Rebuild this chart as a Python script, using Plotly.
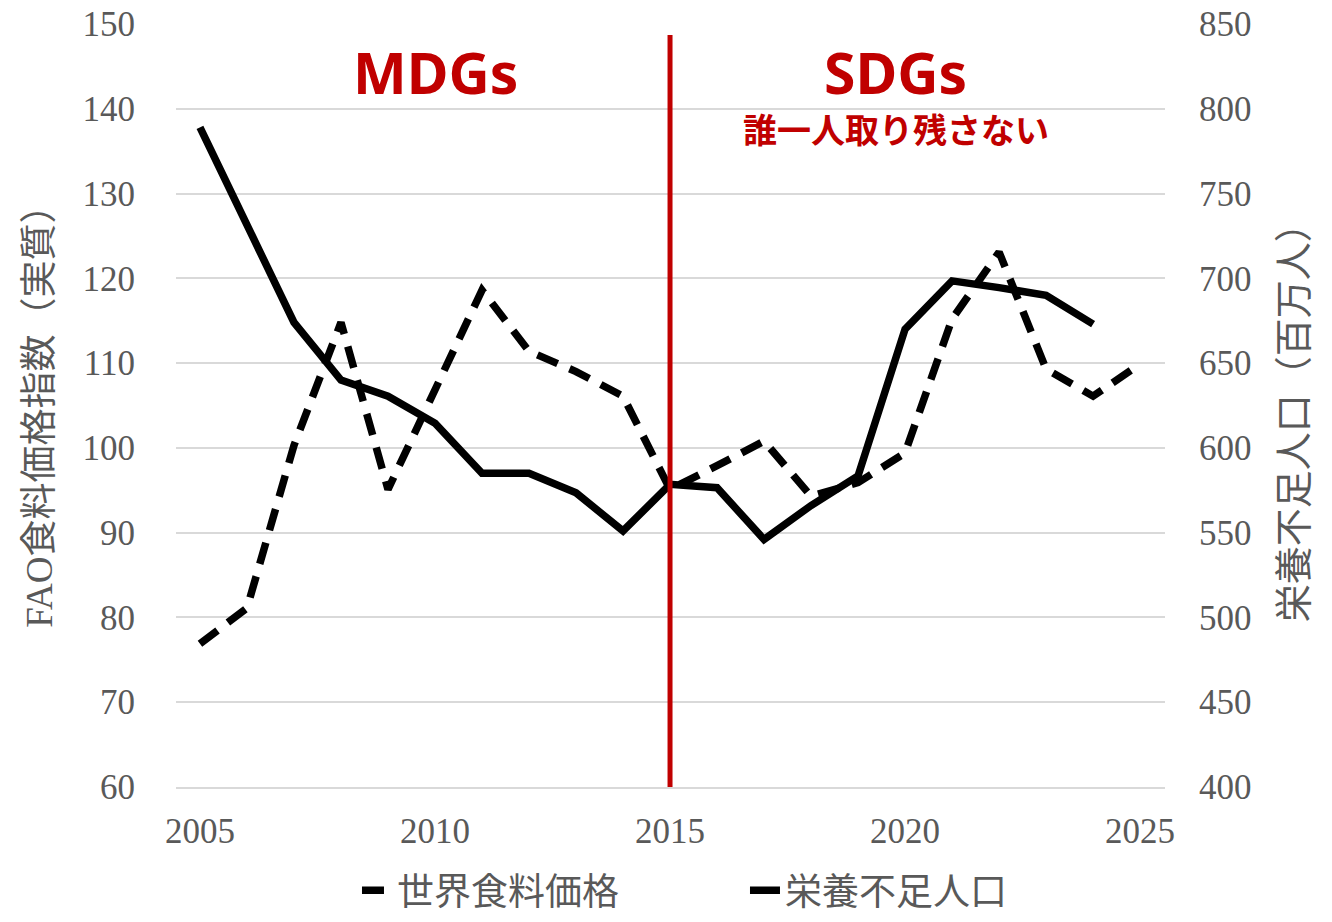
import plotly.graph_objects as go

# ---- data ----
years_price = list(range(2005, 2026))
food_price = [76.9, 81.1, 100.3, 114.8, 95.1, 106.9, 118.6, 111.4, 109.0, 106.1,
              95.1, 97.9, 100.8, 94.3, 95.9, 99.4, 115.2, 123.1, 109.3, 106.1, 109.9]
years_under = list(range(2005, 2025))
undernourished = [789, 731, 674, 640, 630.5, 614.5, 585, 585, 573.5, 551,
                  578.5, 576.5, 546, 566, 583.5, 670, 698.5, 694.5, 690, 673]

x_ticks = [2005, 2010, 2015, 2020, 2025]
divide_year = 2015
name_price = "世界食料価格"
name_under = "栄養不足人口"
title_left = "FAO食料価格指数（実質）"
title_right = "栄養不足人口（百万人）"
label_mdg = "MDGs"
label_sdg = "SDGs"
label_sdg_sub = "誰一人取り残さない"

RED = "#C00000"
GRAY = "#595959"
GRID = "#D9D9D9"
SERIF = "Liberation Serif, Noto Sans CJK JP"
CJK = "Noto Sans CJK JP"

fig = go.Figure()
fig.add_trace(go.Scatter(
    x=years_price, y=food_price, name=name_price, mode="lines",
    line=dict(color="black", width=7.5, dash="22px,13px"), yaxis="y"))
fig.add_trace(go.Scatter(
    x=years_under, y=undernourished, name=name_under, mode="lines",
    line=dict(color="black", width=7.5), yaxis="y2"))

fig.add_shape(type="line", xref="x", yref="y", x0=divide_year, x1=divide_year,
              y0=60, y1=148.7, line=dict(color=RED, width=5), layer="above")

fig.add_annotation(x=2010, y=144.3, xref="x", yref="y", text=label_mdg, showarrow=False,
                   font=dict(family="Noto Sans", size=57, color=RED, weight=700))
fig.add_annotation(x=2019.8, y=144.3, xref="x", yref="y", text=label_sdg, showarrow=False,
                   font=dict(family="Noto Sans", size=57, color=RED, weight=700))
fig.add_annotation(x=2019.8, y=137.7, xref="x", yref="y", text=label_sdg_sub, showarrow=False,
                   font=dict(family=CJK, size=34, color=RED, weight=700))

fig.add_annotation(x=0, y=0.497, xref="paper", yref="paper", xshift=-136, text=title_left,
                   textangle=-90, showarrow=False, xanchor="center", yanchor="middle",
                   font=dict(family=SERIF, size=37, color=GRAY))
fig.add_annotation(x=1, y=0.49, xref="paper", yref="paper", xshift=125, text=title_right,
                   textangle=-90, showarrow=False, xanchor="center", yanchor="middle",
                   font=dict(family=CJK, size=38, color=GRAY))

fig.update_layout(
    width=1332, height=922,
    margin=dict(l=176, r=167, t=24, b=135, autoexpand=False),
    plot_bgcolor="white", paper_bgcolor="white",
    showlegend=True,
    legend=dict(orientation="h", x=0.183, xanchor="left", y=-0.136, yanchor="middle",
                font=dict(family=CJK, size=37, color=GRAY),
                entrywidth=343, entrywidthmode="pixels",
                bgcolor="rgba(0,0,0,0)"),
    xaxis=dict(range=[2004.49, 2025.53], tickvals=x_ticks, showgrid=False, zeroline=False,
               showline=True, linecolor=GRID, linewidth=2, ticks="",
               tickfont=dict(family=SERIF, size=35, color=GRAY), ticklabelstandoff=12,
               ticklabeloverflow="allow"),
    yaxis=dict(range=[60, 150], dtick=10, showgrid=True, gridcolor=GRID, gridwidth=2,
               zeroline=False, showline=False, ticks="",
               tickfont=dict(family=SERIF, size=35, color=GRAY), ticklabelstandoff=40,
               ticklabeloverflow="allow"),
    yaxis2=dict(range=[400, 850], dtick=50, overlaying="y", side="right", showgrid=False,
                zeroline=False, showline=False, ticks="",
                tickfont=dict(family=SERIF, size=35, color=GRAY), ticklabelstandoff=33,
                ticklabeloverflow="allow"),
)

fig.write_html("out.html", config={"displayModeBar": False},
               post_script="document.body.style.margin='0px';")
